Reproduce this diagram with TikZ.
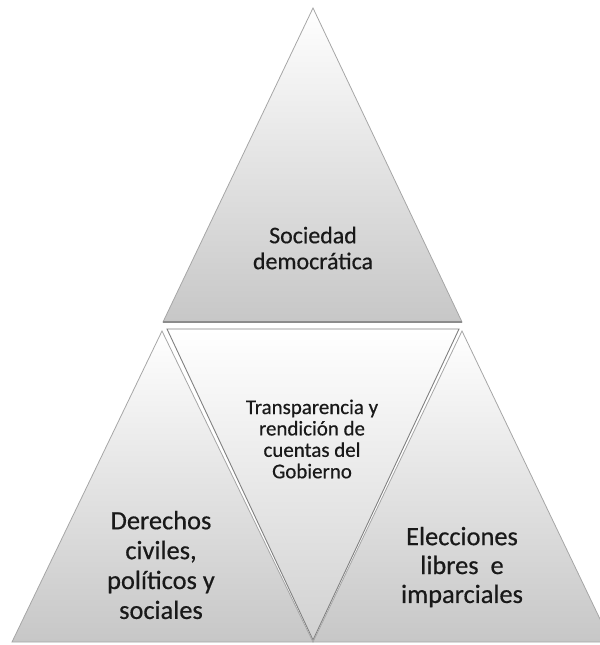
\documentclass[tikz,border=0pt]{standalone}
\usepackage{fontspec}
\setmainfont{Carlito}[FakeBold=0.5]
\newfontfamily\heavy{Carlito}[FakeBold=0.5]
\begin{document}
\begin{tikzpicture}[x=1bp,y=-1bp]
 \tikzset{tri/.style={top color=white, bottom color=black!22, draw=black!35, line width=0.8bp, line join=miter}}
 \tikzset{inv/.style={top color=white, bottom color=black!18, draw=black!50, line width=0.9bp}}
 \tikzset{big/.style={align=center, text=black!90, font=\heavy\fontsize{26.5}{30}\selectfont}}
  \useasboundingbox (0,0) rectangle (600,645);
  \clip (0,0) rectangle (600,645);
  % vertices
  \coordinate (T1) at (313,8);
  \coordinate (T2) at (163,322);
  \coordinate (T3) at (462,322);
  \coordinate (L1) at (162,331);
  \coordinate (L2) at (12,642);
  \coordinate (L3) at (313,642);
  \coordinate (M1) at (167,329);
  \coordinate (M2) at (459,329);
  \coordinate (M3) at (313,640);
  \coordinate (R1) at (462,331);
  \coordinate (R2) at (313,642);
  \coordinate (R3) at (611,642);
  \shade[inv] (M1) -- (M2) -- (M3) -- cycle;
  \shade[tri] (T1) -- (T2) -- (T3) -- cycle;
  \draw[black!45, line width=1.5bp] (T2) -- (T3);
  \shade[tri] (L1) -- (L2) -- (L3) -- cycle;
  \shade[tri] (R1) -- (R2) -- (R3) -- cycle;
  \node[align=center, text=black!90, font=\heavy\fontsize{24}{26}\selectfont] (soc) at (313,248) {Sociedad\\democrática};
  \node[align=center, text=black!90, font=\heavy\fontsize{21}{21.5}\selectfont] (tra) at (312,439) {Transparencia y\\rendición de\\cuentas del\\Gobierno};
  \node[big] (der) at (161,565) {Derechos\\civiles,\\políticos y\\sociales};
  \node[big, font=\heavy\fontsize{26.5}{29}\selectfont] (ele) at (462,567) {Elecciones\\libres\ \ e\\imparciales};
\end{tikzpicture}
\end{document}
